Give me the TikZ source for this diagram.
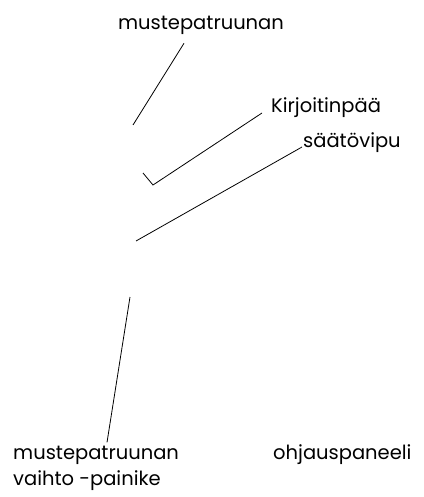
\documentclass[tikz,border=0pt]{standalone}
\usepackage{fontspec}
\setmainfont{Poppins}
\usetikzlibrary{positioning}
\begin{document}
\begin{tikzpicture}[x=1pt,y=-1pt]
\tikzset{callout/.style={inner sep=0pt,align=left,font=\fontsize{19.5}{26}\selectfont},
leader/.style={draw=black,line width=0.8pt}}
\useasboundingbox (0,0) rectangle (423,497);
\node[callout,anchor=base](cartridge) at (201,30){mustepatruunan};
\node[callout,anchor=base west](head) at (271,113){Kirjoitinpää};
\node[callout,anchor=base west](lever) at (303,147){säätövipu};
\node[callout,anchor=base west](swapbtn) at (13,485){mustepatruunan\\vaihto -painike};
\node[callout,anchor=base west](panel) at (273,459){ohjauspaneeli};
\coordinate (c1) at (133,125);
\coordinate (h1) at (153,185);
\coordinate (h2) at (143,173);
\coordinate (l1) at (136,241);
\coordinate (s1) at (130,297);
\draw[leader]([xshift=-17pt,yshift=-8pt]cartridge.south) -- (c1);
\draw[leader]([xshift=-9pt]head.base west) -- (h1) -- (h2);
\draw[leader]([xshift=-1pt]lever.base west) -- (l1);
\draw[leader]([xshift=94pt,yshift=3pt]swapbtn.north west) -- (s1);
\end{tikzpicture}
\end{document}
